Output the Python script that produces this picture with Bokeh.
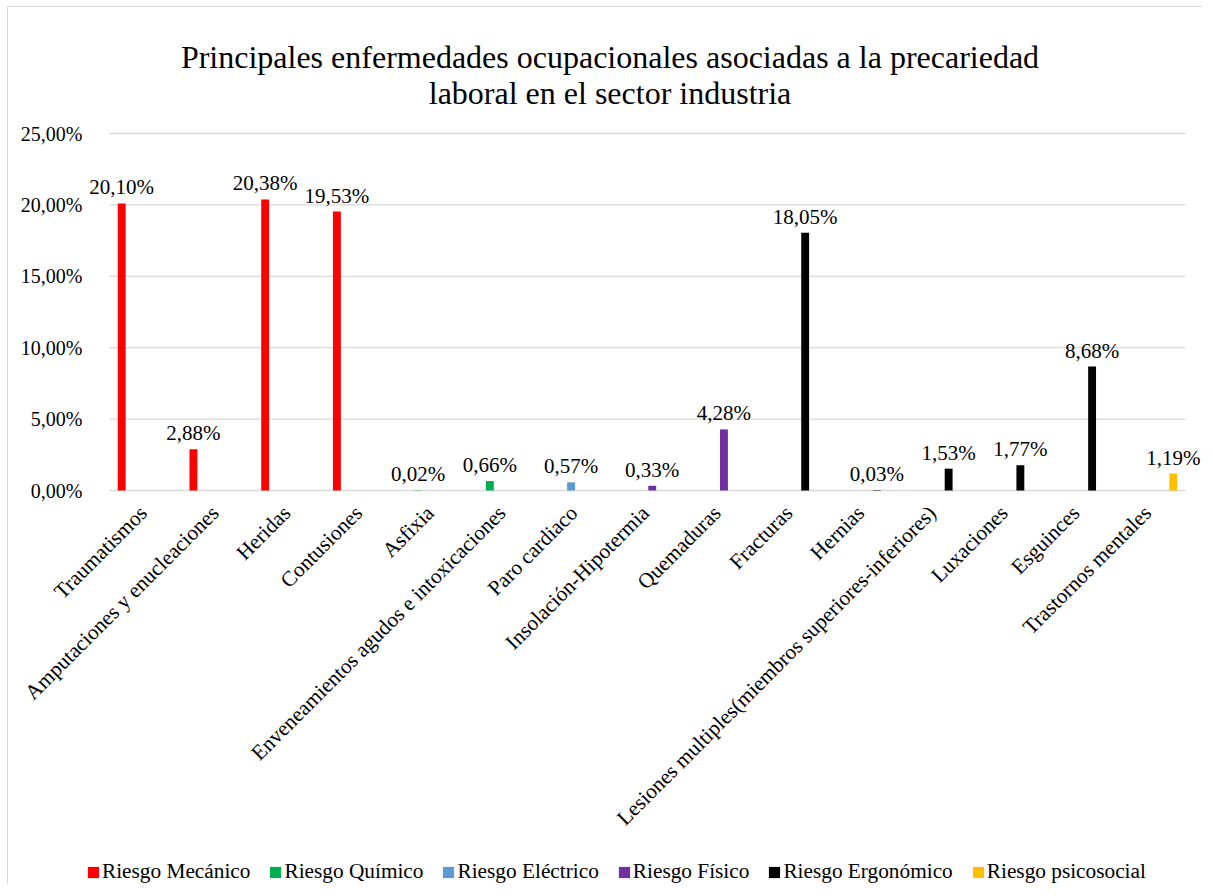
from math import pi
from bokeh.plotting import figure
from bokeh.models import (ColumnDataSource, Range1d, FixedTicker,
                          CustomJSTickFormatter, Legend, LegendItem)
from bokeh.core.properties import value
from bokeh.embed import file_html
from bokeh.resources import INLINE

title_lines = ["Principales enfermedades ocupacionales asociadas a la precariedad",
               "laboral en el sector industria"]

categories = ["Traumatismos", "Amputaciones y enucleaciones", "Heridas", "Contusiones",
              "Asfixia", "Enveneamientos agudos e intoxicaciones", "Paro cardiaco",
              "Insolación-Hipotermia", "Quemaduras", "Fracturas", "Hernias",
              "Lesiones multiples(miembros superiores-inferiores)", "Luxaciones",
              "Esguinces", "Trastornos mentales"]

series_names = ["Riesgo Mecánico", "Riesgo Químico", "Riesgo Eléctrico",
                "Riesgo Físico", "Riesgo Ergonómico", "Riesgo psicosocial"]
series_colors = ["#FF0000", "#00B050", "#5B9BD5", "#7030A0", "#000000", "#FFC000"]

mecanico    = [20.10, 2.88, 20.38, 19.53, None, None, None, None, None, None, None, None, None, None, None]
quimico     = [None, None, None, None, 0.02, 0.66, None, None, None, None, None, None, None, None, None]
electrico   = [None, None, None, None, None, None, 0.57, None, None, None, None, None, None, None, None]
fisico      = [None, None, None, None, None, None, None, 0.33, 4.28, None, None, None, None, None, None]
ergonomico  = [None, None, None, None, None, None, None, None, None, 18.05, 0.03, 1.53, 1.77, 8.68, None]
psicosocial = [None, None, None, None, None, None, None, None, None, None, None, None, None, None, 1.19]

y_ticks = [0, 5, 10, 15, 20, 25]

series_values = [mecanico, quimico, electrico, fisico, ergonomico, psicosocial]

FONT = "Liberation Serif"

# ---- layout in pixels (canvas coordinates) ----
W, H = 1195, 878
PLOT_LEFT, PLOT_W = 101, 1076      # category area
PLOT_TOP, PLOT_H = 126, 357        # 0..25 % area
n = len(categories)
cat_px = PLOT_W / n
y_max = y_ticks[-1]
pct_px = PLOT_H / y_max

x_range = Range1d(-PLOT_LEFT / cat_px, (W - PLOT_LEFT) / cat_px)
y_range = Range1d(-(H - PLOT_TOP - PLOT_H) / pct_px, y_max + PLOT_TOP / pct_px)

p = figure(width=W, height=H, x_range=x_range, y_range=y_range,
           output_backend="svg", toolbar_location=None, min_border=0,
           margin=(6, 0, 0, 7))
p.styles = {"border-left": "1px solid #D9D9D9", "border-top": "1px solid #D9D9D9"}
p.outline_line_color = None
p.background_fill_color = "white"
p.border_fill_color = "white"
p.grid.grid_line_color = None
p.xaxis.visible = False

# y axis (labels drawn inside the canvas, right edge near the plot area)
p.yaxis.ticker = FixedTicker(ticks=y_ticks)
p.yaxis.formatter = CustomJSTickFormatter(code="return tick.toFixed(2).replace('.', ',') + '%';")
p.yaxis.axis_line_color = None
p.yaxis.major_tick_line_color = None
p.yaxis.minor_tick_line_color = None
p.yaxis.major_label_text_font = FONT
p.yaxis.major_label_text_font_size = "20px"
p.yaxis.major_label_text_color = "#000000"
p.yaxis.major_label_standoff = -(PLOT_LEFT - 21)

# horizontal gridlines across the category area
p.segment(x0=[0] * len(y_ticks), x1=[n] * len(y_ticks), y0=y_ticks, y1=y_ticks,
          line_color="#D9D9D9", line_width=1.3)

# bars and data labels
slot = 0.132
legend_items = []
for i, (name, color, vals) in enumerate(zip(series_names, series_colors, series_values)):
    off = (i - 2.5) * slot
    xs = [k + 0.5 + off for k, v in enumerate(vals) if v is not None]
    vs = [v for v in vals if v is not None]
    labels = [f"{v:.2f}".replace(".", ",") + "%" for v in vs]
    src = ColumnDataSource(dict(x=xs, v=vs, label=labels))
    r = p.vbar(x="x", top="v", bottom=0, width=0.11, source=src,
               fill_color=color, line_color=None)
    p.text(x="x", y="v", text="label", source=src, text_align="center",
           text_baseline="alphabetic", y_offset=-16, text_font=value(FONT),
           text_font_size="21px", text_color="#000000")
    legend_items.append(LegendItem(label=name, renderers=[r]))

# category labels (rotated 45 degrees under the axis)
cat_src = ColumnDataSource(dict(x=[k + 0.5 for k in range(n)], y=[0] * n, t=categories))
p.text(x="x", y="y", text="t", source=cat_src, angle=pi / 4, text_align="right",
       text_baseline="middle", x_offset=-2, y_offset=19, text_font=value(FONT),
       text_font_size="21.3px", text_color="#000000")

# title
mid_x = (x_range.start + x_range.end) / 2
p.text(x=[mid_x, mid_x], y=[y_max, y_max], text=title_lines, text_align="center",
       text_baseline="alphabetic", x_offset=4, y_offset=[-77, -41],
       text_font=value(FONT), text_font_size="32px", text_color="#000000")

legend = Legend(items=legend_items, orientation="horizontal", location=(78, 1),
                glyph_width=14, glyph_height=14, label_standoff=2, spacing=18,
                padding=0, margin=0, border_line_color=None,
                background_fill_alpha=0, label_text_font=FONT,
                label_text_font_size="21.3px", label_text_color="#000000",
                label_height=22)
p.add_layout(legend, "center")

open("out.html", "w").write(file_html(p, INLINE))
